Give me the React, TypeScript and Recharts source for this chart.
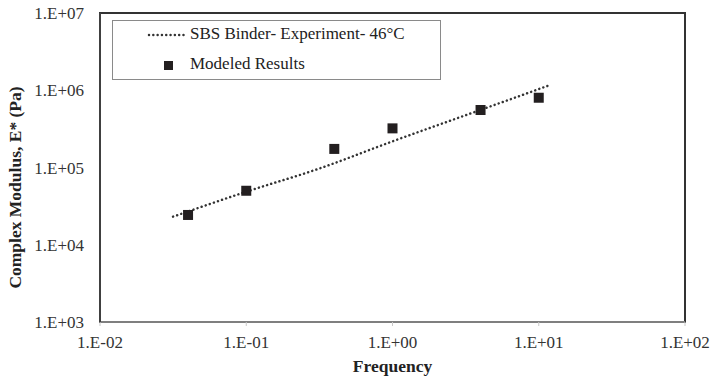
import React from 'react';
import {
  ComposedChart,
  Line,
  Scatter,
  XAxis,
  YAxis,
  ReferenceArea,
  Label,
} from 'recharts';

// Experimental master curve (frequency in Hz, modulus in Pa)
const expFrequency = [0.0316, 0.1, 0.316, 1, 3.16, 10, 12.1];
const expModulus = [23100, 48600, 97000, 218000, 475000, 1035000, 1180000];

// Model output
const modelFrequency = [0.04, 0.1, 0.4, 1, 4, 10];
const modelModulus = [24300, 50000, 174000, 321000, 555000, 800000];

const xTicks = [0.01, 0.1, 1, 10, 100];
const yTicks = [1e3, 1e4, 1e5, 1e6, 1e7];

const expData = expFrequency.map((f, i) => ({ freq: f, modulus: expModulus[i] }));
const modelData = modelFrequency.map((f, i) => ({ freq: f, modulus: modelModulus[i] }));

const FONT = '"Times New Roman", "Liberation Serif", serif';
const INK = '#231f20';

const sciFormat = (v: number) => {
  const e = Math.round(Math.log10(v));
  const s = String(Math.abs(e)).padStart(2, '0');
  return `1.E${e < 0 ? '-' : '+'}${s}`;
};

const SquareDot = (props: any) => {
  const { cx, cy } = props;
  if (cx == null || cy == null) return null;
  return <rect x={cx - 5} y={cy - 5} width={10} height={10} fill={INK} />;
};

// Boxed legend sitting in the upper-left of the plot
const LegendBox = () => (
  <div
    style={{
      position: 'absolute',
      left: 112,
      top: 20,
      width: 329,
      height: 60,
      boxSizing: 'border-box',
      border: '1.5px solid #8a8a8a',
      background: '#fff',
      fontFamily: FONT,
      fontSize: 17,
      color: '#222',
    }}
  >
    <svg width={40} height={60} style={{ position: 'absolute', left: 34, top: 0 }}>
      <line
        x1={2}
        y1={14}
        x2={38}
        y2={14}
        stroke="#333"
        strokeWidth={2.5}
        strokeDasharray="0.01 4.3"
        strokeLinecap="round"
      />
      <rect x={17} y={40} width={9} height={9} fill={INK} />
    </svg>
    <div style={{ position: 'absolute', left: 77, top: 3, lineHeight: '20px' }}>
      SBS Binder- Experiment- 46°C
    </div>
    <div style={{ position: 'absolute', left: 77, top: 33, lineHeight: '20px' }}>
      Modeled Results
    </div>
  </div>
);

export default function App() {
  return (
    <div style={{ position: 'absolute', left: 0, top: 0, width: 712, height: 380, background: '#fff' }}>
      <ComposedChart
        width={712}
        height={380}
        margin={{ top: 13, right: 27, bottom: 0, left: 0 }}
      >
        <XAxis
          dataKey="freq"
          type="number"
          scale="log"
          domain={[0.01, 100]}
          ticks={xTicks}
          tickFormatter={sciFormat}
          allowDataOverflow
          height={58}
          axisLine={{ stroke: '#7f7f7f', strokeWidth: 2 }}
          tickLine={{ stroke: '#c8c8c8', strokeWidth: 1 }}
          tickSize={4}
          tickMargin={10}
          tick={{ fill: '#333', fontFamily: FONT, fontSize: 17 }}
        >
          <Label
            content={({ viewBox }: any) => (
              <text
                x={viewBox.x + viewBox.width / 2}
                y={viewBox.y + 50}
                textAnchor="middle"
                fontFamily={FONT}
                fontSize={17.5}
                fontWeight="bold"
                fill="#222"
              >
                Frequency
              </text>
            )}
          />
        </XAxis>
        <YAxis
          dataKey="modulus"
          type="number"
          scale="log"
          domain={[1e3, 1e7]}
          ticks={yTicks}
          tickFormatter={sciFormat}
          allowDataOverflow
          width={100}
          axisLine={{ stroke: '#404040', strokeWidth: 2 }}
          tickLine={false}
          tickSize={6}
          tickMargin={10}
          tick={{ fill: '#333', fontFamily: FONT, fontSize: 17 }}
        >
          <Label
            content={({ viewBox }: any) => {
              const x = viewBox.x + 15;
              const y = viewBox.y + viewBox.height / 2 + 20;
              return (
                <text
                  x={x}
                  y={y}
                  transform={`rotate(-90 ${x} ${y})`}
                  textAnchor="middle"
                  dominantBaseline="central"
                  fontFamily={FONT}
                  fontSize={17.5}
                  fontWeight="bold"
                  fill="#222"
                >
                  Complex Modulus, E* (Pa)
                </text>
              );
            }}
          />
        </YAxis>
        <ReferenceArea
          x1={0.01}
          x2={100}
          y1={1e3}
          y2={1e7}
          fill="none"
          stroke="#333"
          strokeWidth={2}
          ifOverflow="visible"
        />
        <Line
          data={expData}
          dataKey="modulus"
          type="monotone"
          stroke="#333"
          strokeWidth={2.5}
          strokeDasharray="0.01 4.3"
          strokeLinecap="round"
          dot={false}
          activeDot={false}
          isAnimationActive={false}
          name="SBS Binder- Experiment- 46°C"
        />
        <Scatter
          data={modelData}
          dataKey="modulus"
          shape={<SquareDot />}
          isAnimationActive={false}
          name="Modeled Results"
        />
      </ComposedChart>
      <LegendBox />
    </div>
  );
}
